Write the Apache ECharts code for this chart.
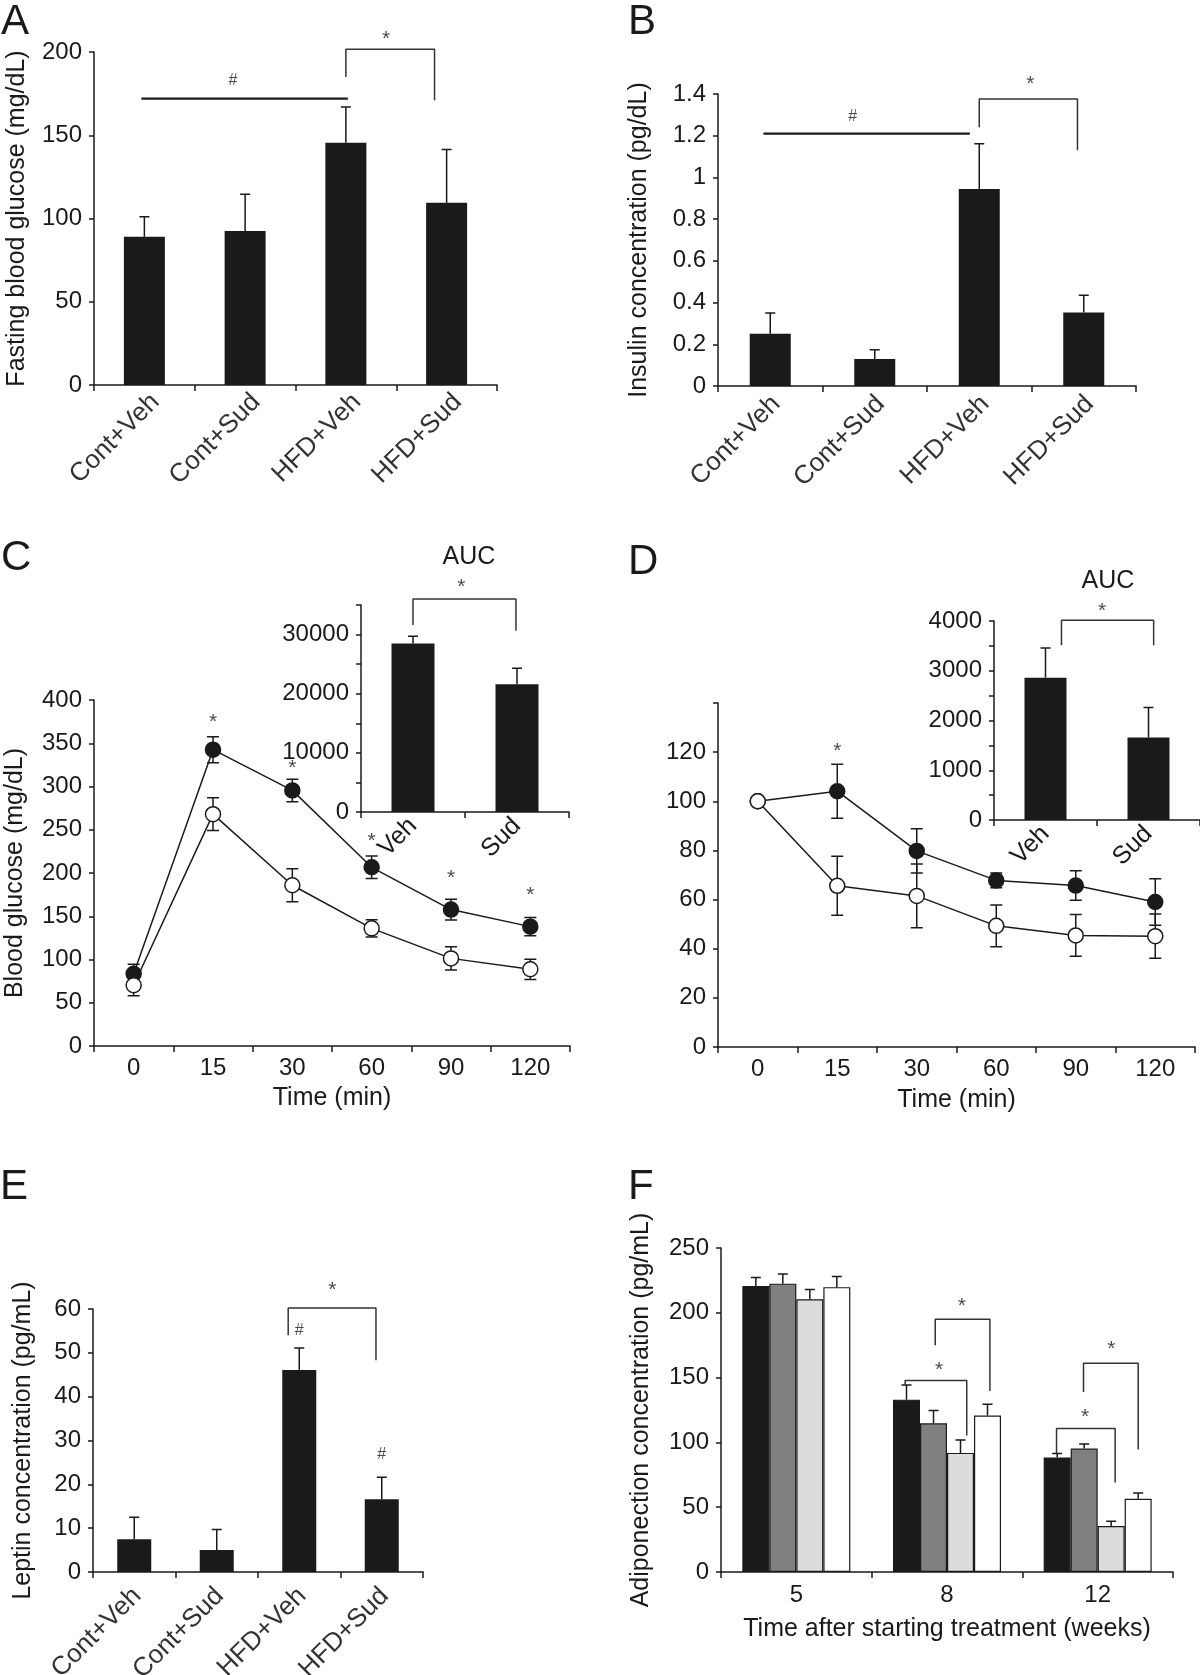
<!DOCTYPE html>
<html><head><meta charset="utf-8">
<script src="https://cdn.jsdelivr.net/npm/echarts@6/dist/echarts.min.js"></script>
<style>html,body{margin:0;padding:0;background:#fff}#c{width:1200px;height:1675px}</style>
</head><body><div id="c"></div>
<script>
// ---------- DATA ----------
const groupCats = ['Cont+Veh', 'Cont+Sud', 'HFD+Veh', 'HFD+Sud'];
const glucoseMean = [89, 92.5, 145.5, 109.5];
const glucoseErr = [12, 22, 21.5, 32];
const insulinMean = [0.25, 0.13, 0.945, 0.352];
const insulinErr = [0.10, 0.044, 0.217, 0.083];
const timeCats = ['0', '15', '30', '60', '90', '120'];
const gttVeh = [83.5, 342.6, 295.5, 206.6, 157.7, 138];
const gttVehErr = [11, 15, 13, 13, 12, 10.5];
const gttSud = [70.2, 268, 185.8, 136, 101.3, 88.7];
const gttSudErr = [12, 19, 19, 10, 13.5, 11.7];
const aucCats = ['Veh', 'Sud'];
const gttAuc = [28500, 21600];
const gttAucErr = [1200, 2700];
const ittVeh = [100, 104.1, 79.8, 67.8, 65.7, 59];
const ittVehErr = [0, 11, 9, 3, 6, 9.5];
const ittSud = [100, 65.6, 61.5, 49.3, 45.4, 45.1];
const ittSudErr = [0, 12, 13, 8.5, 8.5, 9];
const ittAuc = [2857, 1660];
const ittAucErr = [600, 600];
const leptinMean = [7.5, 5.0, 46.1, 16.6];
const leptinErr = [5, 4.7, 5, 5];
const weekCats = ['5', '8', '12'];
const adipoContVeh = [220.6, 133, 88.4];
const adipoContVehErr = [6.7, 11.2, 3];
const adipoContSud = [222.5, 114.7, 95.2];
const adipoContSudErr = [7.5, 9.9, 3.5];
const adipoHfdVeh = [210.4, 91.9, 35.4];
const adipoHfdVehErr = [7.5, 9.9, 3.7];
const adipoHfdSud = [219.8, 120.8, 56.5];
const adipoHfdSudErr = [8.2, 8.7, 4.5];

// significance annotations (data units: x in category index, y in axis value)
const sigLineA = [[-0.03, 172], [2.02, 172]];
const bracketA = [[2.0, 185], [2.0, 201.6], [2.88, 201.6], [2.88, 171]];
const marksA = [['#', 0.88, 183], ['*', 2.4, 210]];
const sigLineB = [[-0.065, 1.21], [1.91, 1.21]];
const bracketB = [[2.0, 1.24], [2.0, 1.376], [2.94, 1.376], [2.94, 1.13]];
const marksB = [['#', 0.79, 1.29], ['*', 2.49, 1.466]];
const marksC = [['*', 1, 379], ['*', 2, 326], ['*', 3, 241.5], ['*', 4, 199], ['*', 5, 179]];
const bracketCAuc = [[0, 31600], [0, 36000], [0.99, 36000], [0.99, 30650]];
const marksCAuc = [['*', 0.464, 38700]];
const marksD = [['*', 1, 122]];
const bracketDAuc = [[0.155, 3514], [0.155, 4016], [1.05, 4016], [1.05, 3514]];
const marksDAuc = [['*', 0.549, 4287]];
const bracketE = [[1.866, 54], [1.866, 60.2], [2.93, 60.2], [2.93, 48.3]];
const marksE = [['*', 2.4, 65.1], ['#', 2.0, 55], ['#', 3.0, 26.7]];
const bracketsF = [
  [[0.722, 144], [0.722, 147.7], [1.131, 147.7], [1.131, 105.3]],
  [[0.922, 175], [0.922, 195.1], [1.285, 195.1], [1.285, 139.6]],
  [[1.727, 91.9], [1.727, 110.7], [2.116, 110.7], [2.116, 69.1]],
  [[1.906, 138.8], [1.906, 161], [2.269, 161], [2.269, 94.6]]
];
const marksF = [['*', 0.947, 159], ['*', 1.098, 208.5], ['*', 1.916, 122.7], ['*', 2.09, 175]];

// ---------- STYLE ----------
const FONT = '"Liberation Sans", Arial, Helvetica, sans-serif';
const INK = '#1a1a1a';
const LAB = '#333333';

const chart = echarts.init(document.getElementById('c'), null, {renderer: 'canvas'});

const gridBox = [
  {left: 94, top: 52, width: 403, height: 333},    // 0 A
  {left: 718, top: 94, width: 418, height: 292},   // 1 B
  {left: 94, top: 700, width: 476, height: 346},   // 2 C
  {left: 361, top: 605, width: 208, height: 207},  // 3 C inset
  {left: 718, top: 703, width: 477, height: 344},  // 4 D
  {left: 994, top: 621, width: 206, height: 199},  // 5 D inset
  {left: 93, top: 1309, width: 330, height: 263},  // 6 E
  {left: 721, top: 1248, width: 452, height: 324}  // 7 F
];
const grid = gridBox.map(g => Object.assign({containLabel: false, outerBoundsMode: 'none'}, g));

const axisLine = {show: true, onZero: false, lineStyle: {color: INK, width: 1.5}};
const xTick = {show: true, inside: false, length: 6, lineStyle: {color: INK, width: 1.5}};
const yTick = {show: true, inside: false, length: 5, lineStyle: {color: INK, width: 1.5}};

function catX(gi, cats, label, extra) {
  return Object.assign({
    type: 'category', gridIndex: gi, data: cats, boundaryGap: true,
    axisLine, axisTick: Object.assign({alignWithLabel: false, interval: 0}, xTick),
    axisLabel: Object.assign({interval: 0, color: INK, fontFamily: FONT, fontSize: 24, margin: 10}, label),
    splitLine: {show: false}
  }, extra || {});
}
function valX(gi, n) {
  return {type: 'value', gridIndex: gi, min: -0.5, max: n - 0.5, show: false,
    axisLine: {show: false, onZero: false}, splitLine: {show: false}};
}
function valY(gi, min, max, interval, extra, label) {
  return Object.assign({
    type: 'value', gridIndex: gi, min, max, interval,
    axisLine, axisTick: yTick, splitLine: {show: false},
    axisLabel: Object.assign({color: INK, fontFamily: FONT, fontSize: 24, margin: 12}, label || {}),
    nameLocation: 'middle', nameRotate: 90,
    nameTextStyle: {color: INK, fontFamily: FONT, fontSize: 25}
  }, extra || {});
}

const noLab = {show: false};
const rotIn = {rotate: 45, fontSize: 25, color: INK, margin: 10};
const xName = {color: INK, fontFamily: FONT, fontSize: 25};
const xAxis = [
  catX(0, groupCats, noLab),
  catX(1, groupCats, noLab),
  catX(2, timeCats, {margin: 10}, {name: 'Time (min)', nameLocation: 'middle', nameGap: 40, nameTextStyle: xName}),
  catX(3, aucCats, rotIn),
  catX(4, timeCats, {margin: 10}, {name: 'Time (min)', nameLocation: 'middle', nameGap: 41, nameTextStyle: xName}),
  catX(5, aucCats, rotIn),
  catX(6, groupCats, noLab),
  catX(7, weekCats, {margin: 11}, {name: 'Time after starting treatment (weeks)', nameLocation: 'middle', nameGap: 45, nameTextStyle: xName}),
  valX(0, 4),  // 8
  valX(1, 4),  // 9
  valX(3, 2),  // 10
  valX(5, 2),  // 11
  valX(6, 4),  // 12
  valX(7, 3)   // 13
];

const yAxis = [
  valY(0, 0, 200, 50, {name: 'Fasting blood glucose (mg/dL)', nameGap: 64}),
  valY(1, 0, 1.4, 0.2, {name: 'Insulin concentration (pg/dL)', nameGap: 66}),
  valY(2, 0, 400, 50, {name: 'Blood glucose (mg/dL)', nameGap: 66}),
  valY(3, 0, 35000, 5000, {}, {formatter: v => (v % 10000 === 0 ? String(v) : '')}),
  valY(4, 0, 140, 20, {}, {formatter: v => (v === 140 ? '' : String(v))}),
  valY(5, 0, 4000, 500, {}, {formatter: v => (v % 1000 === 0 ? String(v) : '')}),
  valY(6, 0, 60, 10, {name: 'Leptin concentration (pg/mL)', nameGap: 57}),
  valY(7, 0, 250, 50, {name: 'Adiponection concentration (pg/mL)', nameGap: 67})
];

// ---------- SERIES HELPERS ----------
function errSeries(xi, yi, means, errs, opt) {
  return {
    type: 'custom', xAxisIndex: xi, yAxisIndex: yi, z: opt.z || 3, silent: true, clip: false,
    animation: false,
    dimensions: ['idx', 'mean', 'err'],
    encode: {x: 0, y: 1},
    data: means.map((m, i) => [i, m, errs[i]]),
    renderItem: (params, api) => {
      const i = api.value(0), m = api.value(1), e = api.value(2);
      if (!e) return null;
      const top = api.coord([i, m + e]);
      const mid = api.coord([i, m]);
      const bot = api.coord([i, m - e]);
      const x = top[0] + (opt.offset || 0);
      const w = opt.cap;
      let pts;
      if (opt.both) {
        pts = [[x - w, bot[1]], [x + w, bot[1]], [x, bot[1]], [x, top[1]], [x - w, top[1]], [x + w, top[1]]];
      } else {
        pts = [[x, mid[1]], [x, top[1]], [x - w, top[1]], [x + w, top[1]]];
      }
      return {type: 'polyline', shape: {points: pts}, style: {stroke: INK, lineWidth: 1.5, fill: null}};
    }
  };
}
function barSeries(xi, yi, data, width, color, border) {
  return {
    type: 'bar', xAxisIndex: xi, yAxisIndex: yi, data, barWidth: width, barGap: '0%', z: 2,
    itemStyle: {color, borderColor: border ? INK : color, borderWidth: border ? 1.2 : 0}, silent: true
  };
}
function pathSeries(xi, yi, pts, width, color) {
  return {
    type: 'line', xAxisIndex: xi, yAxisIndex: yi, data: pts, symbol: 'none', clip: false, silent: true, z: 4,
    lineStyle: {color, width}
  };
}
function marksSeries(xi, yi, marks) {
  return {
    type: 'scatter', xAxisIndex: xi, yAxisIndex: yi, symbolSize: 1, clip: false, silent: true, z: 6,
    itemStyle: {color: 'rgba(0,0,0,0)'},
    data: marks.map(m => ({
      value: [m[1], m[2]], name: m[0],
      label: {offset: [0, m[0] === '*' ? 4 : 0], fontSize: m[0] === '*' ? 21 : 16}
    })),
    label: {show: true, position: 'inside', formatter: p => p.name, color: INK, fontFamily: FONT, fontSize: 21}
  };
}
function lineSeries(xi, yi, data, filled) {
  return {
    type: 'line', xAxisIndex: xi, yAxisIndex: yi, data, symbol: 'circle', symbolSize: 15, z: 5, silent: true,
    lineStyle: {color: INK, width: 1.5},
    itemStyle: {color: filled ? INK : '#ffffff', borderColor: INK, borderWidth: 1.5}
  };
}

const BR = '#333';
const series = [
  // A
  barSeries(0, 0, glucoseMean, 41, INK),
  errSeries(0, 0, glucoseMean, glucoseErr, {cap: 5}),
  pathSeries(8, 0, sigLineA, 2.3, INK),
  pathSeries(8, 0, bracketA, 1.5, BR),
  marksSeries(8, 0, marksA),
  // B
  barSeries(1, 1, insulinMean, 41, INK),
  errSeries(1, 1, insulinMean, insulinErr, {cap: 5}),
  pathSeries(9, 1, sigLineB, 2.3, INK),
  pathSeries(9, 1, bracketB, 1.5, BR),
  marksSeries(9, 1, marksB),
  // C main
  errSeries(2, 2, gttVeh, gttVehErr, {cap: 6, both: true, z: 3}),
  errSeries(2, 2, gttSud, gttSudErr, {cap: 6, both: true, z: 3}),
  lineSeries(2, 2, gttVeh, true),
  lineSeries(2, 2, gttSud, false),
  marksSeries(2, 2, marksC),
  // C inset
  barSeries(3, 3, gttAuc, 43, INK),
  errSeries(3, 3, gttAuc, gttAucErr, {cap: 5}),
  pathSeries(10, 3, bracketCAuc, 1.5, BR),
  marksSeries(10, 3, marksCAuc),
  // D main
  errSeries(4, 4, ittVeh, ittVehErr, {cap: 6, both: true, z: 3}),
  errSeries(4, 4, ittSud, ittSudErr, {cap: 6, both: true, z: 3}),
  lineSeries(4, 4, ittVeh, true),
  lineSeries(4, 4, ittSud, false),
  marksSeries(4, 4, marksD),
  // D inset
  barSeries(5, 5, ittAuc, 42, INK),
  errSeries(5, 5, ittAuc, ittAucErr, {cap: 5}),
  pathSeries(11, 5, bracketDAuc, 1.5, BR),
  marksSeries(11, 5, marksDAuc),
  // E
  barSeries(6, 6, leptinMean, 34, INK),
  errSeries(6, 6, leptinMean, leptinErr, {cap: 5}),
  pathSeries(12, 6, bracketE, 1.5, BR),
  marksSeries(12, 6, marksE),
  // F
  barSeries(7, 7, adipoContVeh, 27, INK, true),
  barSeries(7, 7, adipoContSud, 27, '#808080', true),
  barSeries(7, 7, adipoHfdVeh, 27, '#dcdcdc', true),
  barSeries(7, 7, adipoHfdSud, 27, '#ffffff', true),
  errSeries(7, 7, adipoContVeh, adipoContVehErr, {cap: 5, offset: -40.5}),
  errSeries(7, 7, adipoContSud, adipoContSudErr, {cap: 5, offset: -13.5}),
  errSeries(7, 7, adipoHfdVeh, adipoHfdVehErr, {cap: 5, offset: 13.5}),
  errSeries(7, 7, adipoHfdSud, adipoHfdSudErr, {cap: 5, offset: 40.5}),
  ...bracketsF.map(b => pathSeries(13, 7, b, 1.5, BR)),
  marksSeries(13, 7, marksF)
];

function letter(t, x, y) {
  return {type: 'text', left: x, top: y, silent: true,
    style: {text: t, fill: INK, font: '42px ' + FONT}};
}
function title(t, cx, cy) {
  return {type: 'text', x: cx, y: cy, silent: true,
    style: {text: t, fill: INK, font: '25px ' + FONT, align: 'center', verticalAlign: 'middle'}};
}

chart.setOption({
  animation: false,
  backgroundColor: '#ffffff',
  textStyle: {fontFamily: FONT},
  grid, xAxis, yAxis, series
});

// rotated category labels, anchored to the category positions from the axes
const catLabelSets = [
  {xi: 0, yi: 0, cats: groupCats, dx: 11, dy: 13},
  {xi: 1, yi: 1, cats: groupCats, dx: 6, dy: 14},
  {xi: 6, yi: 6, cats: groupCats, dx: 3, dy: 20}
];
const catLabels = [];
catLabelSets.forEach(s => s.cats.forEach((c, i) => {
  const p = chart.convertToPixel({xAxisIndex: s.xi, yAxisIndex: s.yi}, [i, 0]);
  catLabels.push({type: 'text', x: p[0] + s.dx, y: p[1] + s.dy, rotation: Math.PI / 4, silent: true,
    style: {text: c, fill: LAB, font: '26px ' + FONT, align: 'right', verticalAlign: 'middle'}});
}));

chart.setOption({
  graphic: [
    letter('A', 1, 1), letter('B', 628, 1),
    letter('C', 1, 537), letter('D', 628, 541),
    letter('E', 0, 1166), letter('F', 628, 1166),
    title('AUC', 469, 557), title('AUC', 1108, 581),
    ...catLabels
  ]
});
</script></body></html>
